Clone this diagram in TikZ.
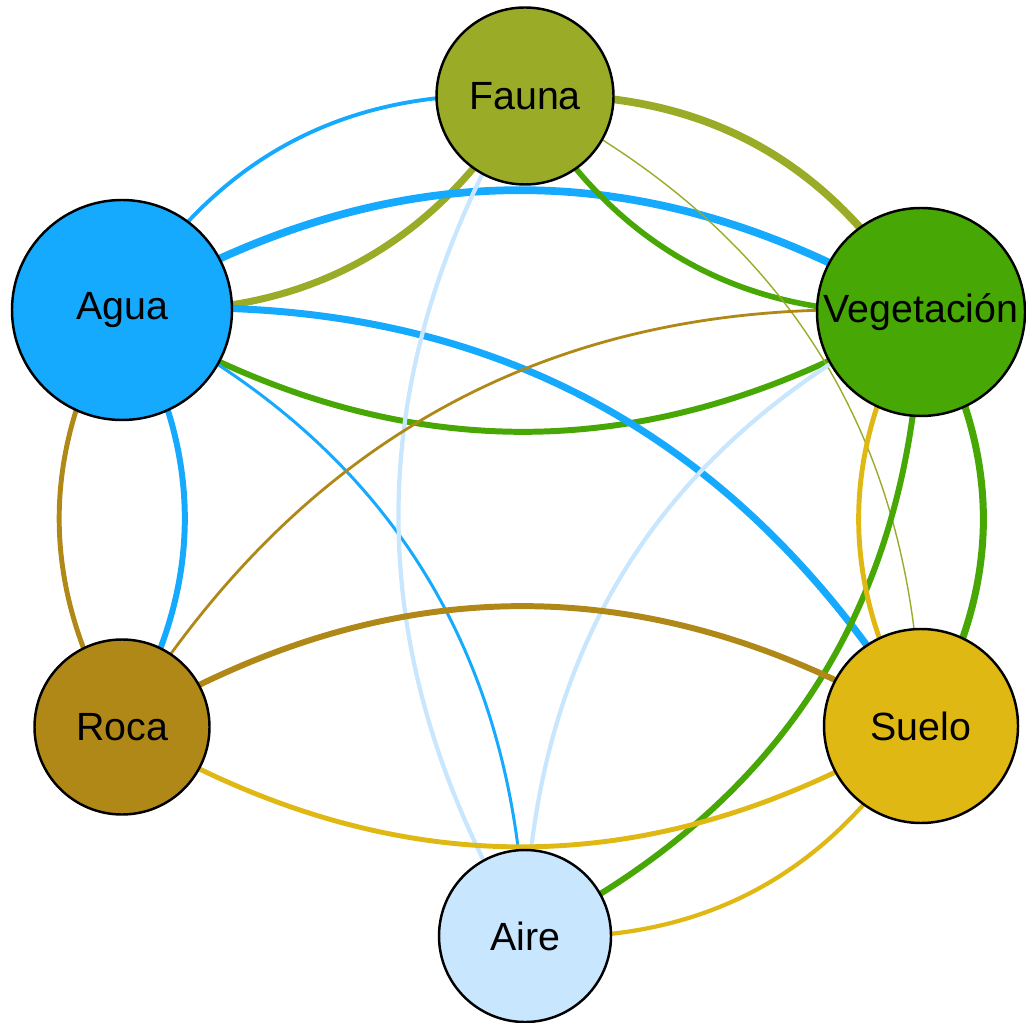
\documentclass[tikz,border=0pt]{standalone}
\usepackage{fontspec}
\setmainfont{Liberation Sans}
\usetikzlibrary{backgrounds}

\definecolor{cAgua}{RGB}{22,170,255}
\definecolor{cFauna}{RGB}{154,172,39}
\definecolor{cVeg}{RGB}{71,168,5}
\definecolor{cRoca}{RGB}{176,136,24}
\definecolor{cSuelo}{RGB}{224,184,20}
\definecolor{cAire}{RGB}{200,230,253}

\begin{document}
\begin{tikzpicture}[
    nodo/.style={circle, draw=black, line width=0.7pt, inner sep=0pt,
      font=\fontsize{11.2}{13}\selectfont}]
  \useasboundingbox (0,0) rectangle (10.26,10.22);

  \node[nodo, fill=cFauna, minimum size=1.77cm] (fauna) at (5.25,9.26) {Fauna};
  \node[nodo, fill=cAgua, minimum size=2.20cm] (agua) at (1.22,7.12) {Agua};
  \node[nodo, fill=cVeg, minimum size=2.08cm] (veg) at (9.21,7.10) {Vegetación};
  \node[nodo, fill=cRoca, minimum size=1.75cm] (roca) at (1.22,2.95) {Roca};
  \node[nodo, fill=cSuelo, minimum size=1.94cm] (suelo) at (9.21,2.96) {Suelo};
  \node[nodo, fill=cAire, minimum size=1.72cm] (aire) at (5.25,0.86) {Aire};

  % each link bends to the left of its direction, coloured as its source
  \begin{pgfonlayer}{background}
    \foreach \a/\b/\c/\w in {
        agua/fauna/cAgua/1.1, fauna/agua/cFauna/2.0,
        agua/veg/cAgua/2.2, veg/agua/cVeg/1.7,
        agua/suelo/cAgua/2.0, agua/aire/cAgua/0.85,
        agua/roca/cAgua/1.7, roca/agua/cRoca/1.4,
        fauna/veg/cFauna/2.2, veg/fauna/cVeg/1.6,
        fauna/suelo/cFauna/0.4, aire/fauna/cAire/1.2,
        roca/veg/cRoca/0.8, aire/veg/cAire/1.2,
        veg/aire/cVeg/1.7, veg/suelo/cVeg/2.0,
        suelo/veg/cSuelo/1.4, roca/suelo/cRoca/1.7,
        suelo/roca/cSuelo/1.4, suelo/aire/cSuelo/1.2}{
      \draw[\c, line width=\w pt] (\a.center) to[bend left=31] (\b.center);
    }
  \end{pgfonlayer}
\end{tikzpicture}
\end{document}
